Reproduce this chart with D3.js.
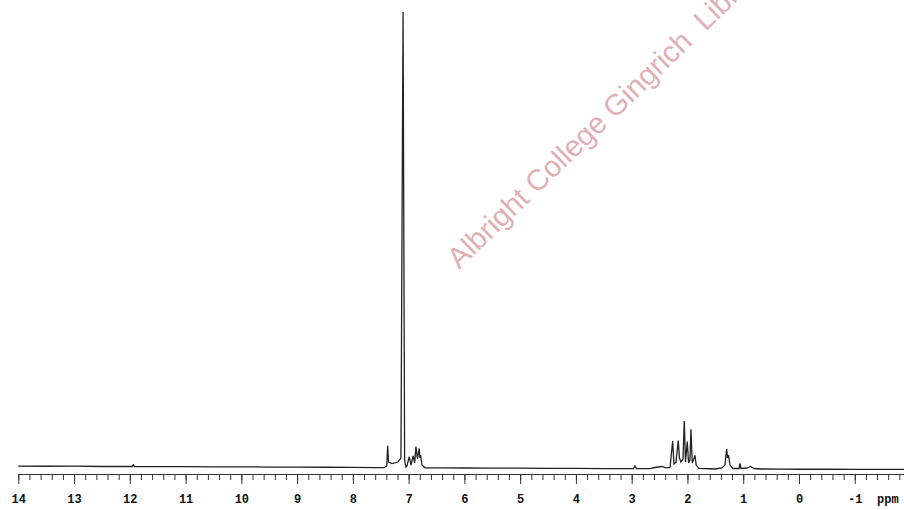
<!DOCTYPE html>
<html>
<head>
<meta charset="utf-8">
<script src="https://cdn.jsdelivr.net/npm/d3@7"></script>
<style>
  body { margin: 0; background: #fff; }
  svg { display: block; }
</style>
</head>
<body>
<script>
// chemical shift (ppm) and signal intensity, left to right
let shifts = [
  14.0, 13.5, 13.0, 12.5, 12.0, 11.96, 11.94, 11.92, 11.5, 11.0, 10.5, 10.0,
  9.5, 9.0, 8.5, 8.0, 7.6, 7.443,
  7.392, 7.376, 7.360, 7.299, 7.192, 7.138, 7.100, 7.072, 7.050, 7.030,
  6.989, 6.958, 6.917, 6.892, 6.869, 6.842, 6.810, 6.797, 6.785, 6.761,
  6.707, 6.4, 6.0, 5.5, 5.0, 4.5, 4.0, 3.5, 3.0,
  2.968, 2.941, 2.914, 2.8, 2.672,
  2.583, 2.462, 2.385, 2.313, 2.265, 2.242, 2.206, 2.165, 2.143, 2.116,
  2.080, 2.057, 2.035, 2.003, 1.980, 1.955, 1.937, 1.914, 1.892, 1.865,
  1.844, 1.793, 1.6, 1.506,
  1.381, 1.327, 1.297, 1.281, 1.264, 1.237, 1.184,
  1.076, 1.058, 1.040, 0.933, 0.866, 0.807, 0.7,
  0.3, 0.0, -0.5, -1.0, -1.5, -2.0
]
let intensity = [
  0.65, 0.6, 0.62, 0.55, 0.58, 0.55, 0.9, 0.55, 0.5, 0.52, 0.45, 0.48,
  0.42, 0.4, 0.38, 0.35, 0.3, 0.28,
  0.66, 5.1, 1.53, 1.2, 1.53, 2.4, 100, 1.97, 0.44, 0.66,
  2.7, 0.88, 2.9, 1.3, 4.9, 2.2, 4.5, 2.4, 3.06, 0.88,
  0.26, 0.25, 0.22, 0.2, 0.18, 0.15, 0.12, 0.1, 0.08,
  0.08, 0.66, 0.08, 0.08, 0.09,
  0.33, 0.55, 0.26, 0.33, 6.1, 1.1, 1.5, 6.2, 2.4, 1.5,
  2.2, 10.5, 1.5, 6.0, 1.3, 2.0, 8.7, 1.3, 2.0, 3.0,
  0.88, 0.15, 0.05, 0.0,
  0.22, 0.88, 4.4, 2.4, 3.06, 0.88, 0.11,
  0.11, 1.25, 0.11, 0.22, 0.55, 0.11, 0.0,
  -0.02, -0.05, -0.05, -0.08, -0.08, -0.1
]

let majorTicks = [14, 13, 12, 11, 10, 9, 8, 7, 6, 5, 4, 3, 2, 1, 0, -1]
let minorTicks = d3.range(70, -11, -1).map(d => d / 5)

let width = 904
let height = 510

let svg = d3.select("body")
            .append("svg")
            .attr("width", width)
            .attr("height", height)

svg.append("rect")
    .attr("width", width)
    .attr("height", height)
    .attr("fill", "#fff")

let xScale = d3.scaleLinear()
                .domain([14, -2])
                .range([18.3, 910.5])

let yScale = d3.scaleLinear()
                .domain([0, 100])
                .range([469, 12])

let points = shifts.map((s, i) => [s, intensity[i]])

let line = d3.line()
             .x(d => xScale(d[0]))
             .y(d => yScale(d[1]))

svg.append("path")
    .datum(points)
    .attr("fill", "none")
    .attr("stroke", "#222")
    .attr("stroke-width", 1.3)
    .attr("d", line)

// ppm scale under the trace
let axisY = 474

let minorAxis = d3.axisBottom(xScale)
                  .tickValues(minorTicks)
                  .tickSize(6)
                  .tickSizeOuter(0)
                  .tickFormat("")

svg.append("g")
    .attr("transform", "translate(0," + axisY + ")")
    .call(minorAxis)

let majorAxis = d3.axisBottom(xScale)
                  .tickValues(majorTicks)
                  .tickSize(10)
                  .tickSizeOuter(0)
                  .tickPadding(10)
                  .tickFormat(d3.format("d"))

let gx = svg.append("g")
    .attr("transform", "translate(0," + axisY + ")")
    .call(majorAxis)

svg.selectAll(".domain, .tick line")
    .attr("stroke", "#333")
    .attr("stroke-width", 1)

gx.selectAll("text")
    .attr("fill", "#111")
    .style("font-family", "'Liberation Mono', 'DejaVu Sans Mono', monospace")
    .style("font-weight", "bold")
    .style("font-size", "12px")
    .text(d => d < 0 ? "-" + Math.abs(d) : d)

svg.append("text")
    .attr("x", 877)
    .attr("y", 502.5)
    .attr("fill", "#111")
    .style("font-family", "'Liberation Mono', 'DejaVu Sans Mono', monospace")
    .style("font-weight", "bold")
    .style("font-size", "12px")
    .text("ppm")

// library watermark
svg.append("text")
    .attr("transform", "translate(459,270) rotate(-44)")
    .attr("fill", "#dfb0b5")
    .style("font-family", "'Liberation Sans', Arial, sans-serif")
    .style("font-size", "29.5px")
    .style("white-space", "pre")
    .text("Albright College Gingrich  Library")
</script>
</body>
</html>
